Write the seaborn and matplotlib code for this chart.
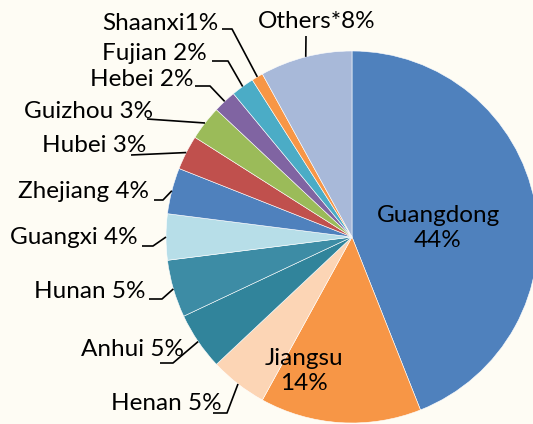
import numpy as np
import seaborn as sns
import matplotlib.pyplot as plt

# data: share of each province, clockwise from 12 o'clock
provinces = ["Guangdong", "Jiangsu", "Henan", "Anhui", "Hunan", "Guangxi", "Zhejiang",
             "Hubei", "Guizhou", "Hebei", "Fujian", "Shaanxi", "Others*"]
shares = [44, 14, 5, 5, 5, 4, 4, 3, 3, 2, 2, 1, 8]
label_text = ["Guangdong\n44%", "Jiangsu\n14%", "Henan 5%", "Anhui 5%", "Hunan 5%",
              "Guangxi 4%", "Zhejiang 4%", "Hubei 3%", "Guizhou 3%", "Hebei 2%",
              "Fujian 2%", "Shaanxi1%", "Others*8%"]
colors = ["#4F81BD", "#F79646", "#FCD5B5", "#31849B", "#3D8CA5", "#B7DEE8", "#4F81BD",
          "#C0504D", "#9BBB59", "#8064A2", "#4BACC6", "#F79646", "#A8B9D9"]

sns.set_theme(style="white")
plt.rcParams["font.family"] = ["Lato", "DejaVu Sans"]

W, H = 533, 424
bg = "#FEFCF4"
fig = plt.figure(figsize=(W / 100, H / 100), dpi=100, facecolor=bg)
ax = fig.add_axes([0, 0, 1, 1])

cx, cy, r = 352, 237, 186
# pie drawn in an upside-down axis, so go counterclockwise to appear clockwise
wedges, _ = ax.pie(shares, colors=colors, startangle=-90, counterclock=True,
                   center=(cx, cy), radius=r, frame=True,
                   wedgeprops=dict(edgecolor="white", linewidth=0.4))
ax.set_xlim(0, W)
ax.set_ylim(H, 0)
ax.set_aspect("equal")
ax.axis("off")

# layout for labels: (text x, text y, ha, elbow x, elbow y) in pixels
layout = {
    "Guangdong": (438, 228, "center", None, None),
    "Jiangsu": (304, 371, "center", None, None),
    "Henan": (222, 404, "right", 213, 413),
    "Anhui": (184, 349, "right", 160, 363),
    "Hunan": (145, 292, "right", 149, 299),
    "Guangxi": (138, 238, "right", 142, 246),
    "Zhejiang": (149, 191, "right", 154, 200),
    "Hubei": (146, 145, "right", 131, 155),
    "Guizhou": (153, 111, "right", 147, 119),
    "Hebei": (194, 80, "right", 195, 86),
    "Fujian": (207, 53, "right", 212, 61),
    "Shaanxi": (218, 23, "right", 222, 29),
    "Others*": (317, 21, "center", 306, 36),
}
seg = {"Henan": 14, "Anhui": 13, "Hunan": 13, "Guangxi": 11, "Zhejiang": 9, "Hubei": 0,
       "Guizhou": 0, "Hebei": 15, "Fujian": 16, "Shaanxi": 10, "Others*": 0}

cum = np.cumsum([0] + shares)
total = cum[-1]
for i, name in enumerate(provinces):
    tx, ty, ha, ex, ey = layout[name]
    ax.text(tx, ty, label_text[i], ha=ha, va="center", fontsize=17.5,
            color="black", linespacing=1.25)
    if ex is None:
        continue
    mid = (cum[i] + shares[i] / 2) / total * 2 * np.pi
    px = cx + r * np.sin(mid)
    py = cy - r * np.cos(mid)
    if name == "Others*":
        pts = [(ex, ey), (px, py)]
    else:
        pts = [(ex, ey), (ex + seg[name], ey), (px, py)]
    xs, ys = zip(*pts)
    ax.plot(xs, ys, color="black", lw=1.2, solid_capstyle="butt")

fig.savefig("out.png", dpi=100, facecolor=bg)
